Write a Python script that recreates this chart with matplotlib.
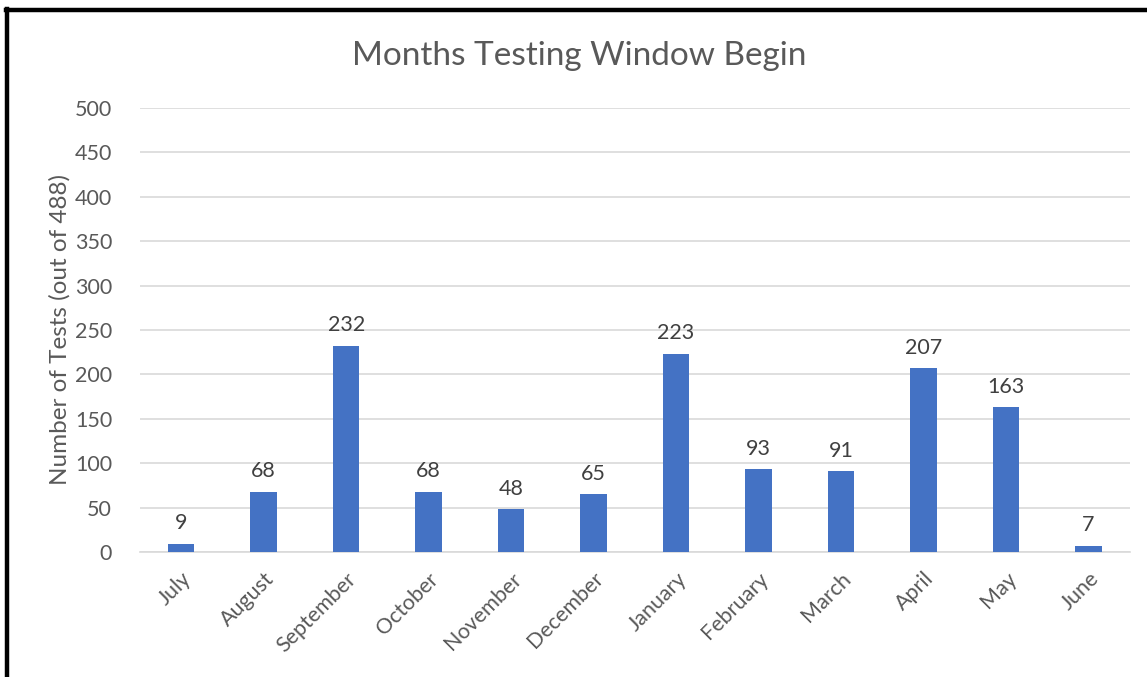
import matplotlib.pyplot as plt
from matplotlib.lines import Line2D

months = ["July", "August", "September", "October", "November", "December",
          "January", "February", "March", "April", "May", "June"]
tests = [9, 68, 232, 68, 48, 65, 223, 93, 91, 207, 163, 7]
y_ticks = [0, 50, 100, 150, 200, 250, 300, 350, 400, 450, 500]

plt.rcParams["font.family"] = ["Lato", "DejaVu Sans"]
text_color = "#595959"

fig = plt.figure(figsize=(11.47, 6.77), dpi=100)
ax = fig.add_axes([0.122, 0.1846, 0.863, 0.656])

x = list(range(len(months)))
bars = ax.bar(x, tests, width=0.32, color="#4472C4", zorder=3)
for bar, val in zip(bars, tests):
    ax.text(bar.get_x() + bar.get_width() / 2, val + 12, str(val),
            ha="center", va="bottom", fontsize=15.5, color="#404040")

ax.set_xlim(-0.5, len(months) - 0.5)
ax.set_ylim(0, 500)
ax.set_yticks(y_ticks)
ax.yaxis.grid(True, color="#D9D9D9", linewidth=1.2, zorder=0)
ax.set_xticks(x)
ax.set_xticklabels(months, rotation=45, ha="right", rotation_mode="anchor")
ax.tick_params(axis="both", length=0, labelsize=15.5, colors=text_color)
ax.tick_params(axis="x", pad=12)
ax.tick_params(axis="y", pad=20)
for side in ["top", "right", "left"]:
    ax.spines[side].set_visible(False)
ax.spines["bottom"].set_color("#D9D9D9")
ax.spines["bottom"].set_linewidth(1.2)

ax.set_ylabel("Number of Tests (out of 488)", fontsize=17.5, color=text_color, labelpad=3)
fig.text(0.505, 0.918, "Months Testing Window Begin", ha="center", va="center",
         fontsize=24, color=text_color)

# black frame around the chart (cut off at right and bottom)
fig.add_artist(Line2D([0.0065, 0.0065], [0, 0.987], transform=fig.transFigure,
                      color="black", linewidth=3.2))
fig.add_artist(Line2D([0.005, 1.0], [0.985, 0.985], transform=fig.transFigure,
                      color="black", linewidth=3.2))

fig.savefig("out.png", dpi=100)
